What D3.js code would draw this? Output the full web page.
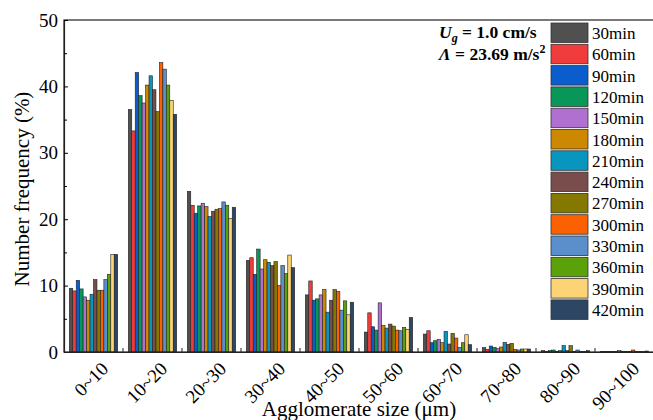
<!DOCTYPE html>
<html>
<head>
<meta charset="utf-8">
<script src="https://cdn.jsdelivr.net/npm/d3@7"></script>
<style>
  body { margin: 0; background: #fff; }
  svg { display: block; }
</style>
</head>
<body>
<div id="chart"></div>
<script>
// categories (agglomerate size bins)
var sizes = ["0~10", "10~20", "20~30", "30~40", "40~50", "50~60", "60~70", "70~80", "80~90", "90~100"];
// series (time)
var times = ["30min", "60min", "90min", "120min", "150min", "180min", "210min", "240min", "270min", "300min", "330min", "360min", "390min", "420min"];
var colors = ["#505050", "#f03c3c", "#0b5ccc", "#089659", "#b070d0", "#cc8800", "#0996be", "#7a4d4d", "#847800", "#fb6101", "#5b8fcb", "#5ba10a", "#fdd475", "#2c4664"];

// number frequency (%) per time, one value per size bin
var f30  = [9.6, 36.5, 24.2, 13.8, 8.6, 3.0, 2.7, 0.65, 0.2, 0.1];
var f60  = [9.2, 33.3, 22.1, 14.2, 10.7, 5.9, 3.2, 0.4, 0.1, 0.05];
var f90  = [10.8, 42.1, 20.9, 11.7, 7.8, 3.8, 1.4, 0.9, 0.2, 0.1];
var f120 = [9.5, 38.6, 22.0, 15.5, 8.0, 3.3, 1.7, 0.7, 0.3, 0.05];
var f150 = [8.3, 37.5, 22.4, 12.5, 8.6, 7.4, 1.9, 0.5, 0.1, 0.1];
var f180 = [7.8, 40.2, 21.9, 13.9, 9.4, 4.0, 1.4, 0.75, 0.2, 0.2];
var f210 = [8.7, 41.6, 20.4, 13.5, 6.0, 3.6, 3.1, 1.45, 0.95, 0.1];
var f240 = [10.9, 39.5, 21.2, 13.0, 7.8, 4.2, 1.2, 1.15, 0.2, 0.05];
var f270 = [9.3, 36.2, 21.5, 13.6, 9.4, 3.9, 2.8, 1.3, 0.95, 0.1];
var f300 = [9.3, 43.6, 21.6, 10.0, 9.1, 3.3, 2.1, 0.4, 0.1, 0.3];
var f330 = [10.9, 42.6, 22.6, 13.0, 6.3, 3.2, 0.7, 0.3, 0.3, 0.1];
var f360 = [11.7, 40.2, 22.1, 11.8, 7.7, 3.7, 1.4, 0.45, 0.1, 0.1];
var f390 = [14.7, 37.9, 20.1, 14.6, 5.6, 3.4, 2.6, 0.45, 0.1, 0.05];
var f420 = [14.7, 35.8, 21.8, 12.7, 7.5, 5.2, 1.1, 0.45, 0.2, 0.15];
var series = [f30, f60, f90, f120, f150, f180, f210, f240, f270, f300, f330, f360, f390, f420];

var yTicks = [0, 10, 20, 30, 40, 50];
var yMinor = [5, 15, 25, 35, 45];

var serif = "'Liberation Serif', 'DejaVu Serif', 'Times New Roman', Times, serif";

var W = 653, H = 420;
var margin = { top: 20, left: 64, right: -1, bottom: 68 };
var width = W - margin.left - margin.right;
var height = H - margin.top - margin.bottom;

var svg = d3.select("#chart").append("svg")
  .attr("width", W).attr("height", H)
  .style("font-family", serif);
var g = svg.append("g").attr("transform", `translate(${margin.left},${margin.top})`);

var x = d3.scaleBand().domain(sizes).range([0, width]).paddingInner(0.18).paddingOuter(0.09);
var xOuter = d3.scaleBand().domain(sizes).range([0, width]);
var xs = d3.scaleBand().domain(times).range([0, x.bandwidth()]);
var y = d3.scaleLinear().domain([0, 50]).range([height, 0]);

// bars
var groups = g.selectAll(".grp")
  .data(sizes)
  .join("g")
  .attr("class", "grp")
  .attr("transform", d => `translate(${x(d)},0)`);

groups.selectAll("rect")
  .data((s, i) => series.map((vals, j) => ({ t: times[j], v: vals[i], c: colors[j] })))
  .join("rect")
  .attr("x", d => xs(d.t))
  .attr("width", xs.bandwidth())
  .attr("y", d => y(d.v))
  .attr("height", d => height - y(d.v))
  .attr("fill", d => d.c)
  .attr("stroke", "#222")
  .attr("stroke-width", 0.6);

// frame (top + right)
g.append("rect")
  .attr("width", width).attr("height", height)
  .attr("fill", "none").attr("stroke", "#222").attr("stroke-width", 1.2);

// y axis
var yaxis = g.append("g")
  .call(d3.axisLeft(y).tickValues(yTicks).tickSizeInner(-4).tickSizeOuter(0).tickPadding(6));
g.append("g")
  .call(d3.axisLeft(y).tickValues(yMinor).tickSizeInner(-3).tickSizeOuter(0).tickFormat(""))
  .select(".domain").remove();

// x axis
var xaxis = g.append("g")
  .attr("transform", `translate(0,${height})`)
  .call(d3.axisBottom(x).tickSize(0).tickSizeOuter(0).tickPadding(0));
xaxis.selectAll(".tick line").remove();
g.selectAll(".xb")
  .data(sizes.slice(1))
  .join("line")
  .attr("x1", d => xOuter(d)).attr("x2", d => xOuter(d))
  .attr("y1", height).attr("y2", height - 4)
  .attr("stroke", "#222");
g.selectAll(".domain").attr("stroke", "#222").attr("stroke-width", 1.2);

// d3 axes put their own font on the group; replace it
g.selectAll(".tick text").attr("fill", "#000").style("font-family", serif);
g.selectAll("g").attr("font-family", null).attr("font-size", null);
yaxis.selectAll("text").style("font-size", "19px");
xaxis.selectAll("text")
  .style("font-size", "19px")
  .attr("text-anchor", "end")
  .attr("dy", 0)
  .attr("transform", "translate(16,18) rotate(-45)");

// axis titles
svg.append("text")
  .attr("transform", `translate(29,189) rotate(-90)`)
  .attr("text-anchor", "middle")
  .style("font-size", "21px")
  .text("Number frequency (%)");
svg.append("text")
  .attr("x", 359).attr("y", 416)
  .attr("text-anchor", "middle")
  .style("font-size", "21px")
  .text("Agglomerate size (μm)");

// condition annotation
var ann = svg.append("g").style("font-weight", "bold").style("font-size", "17.5px");
var t1 = ann.append("text").attr("x", 439).attr("y", 38);
t1.append("tspan").style("font-style", "italic").text("U");
t1.append("tspan").style("font-style", "italic").style("font-size", "12px").attr("dy", 4).text("g");
t1.append("tspan").attr("dy", -4).text(" = 1.0 cm/s");
var t2 = ann.append("text").attr("x", 439).attr("y", 60);
t2.append("tspan").style("font-style", "italic").text("Λ");
t2.append("tspan").text(" = 23.69 m/s");
t2.append("tspan").style("font-size", "12px").attr("dy", -7).text("2");

// legend
var legend = svg.append("g").attr("transform", "translate(551,23)");
var li = legend.selectAll("g")
  .data(times)
  .join("g")
  .attr("transform", (d, i) => `translate(0,${i * 21.3})`);
li.append("rect")
  .attr("width", 37).attr("height", 19.5)
  .attr("fill", (d, i) => colors[i])
  .attr("stroke", "#333").attr("stroke-width", 0.8);
li.append("text")
  .attr("x", 41).attr("y", 16)
  .style("font-size", "17px")
  .text(d => d);
</script>
</body>
</html>
